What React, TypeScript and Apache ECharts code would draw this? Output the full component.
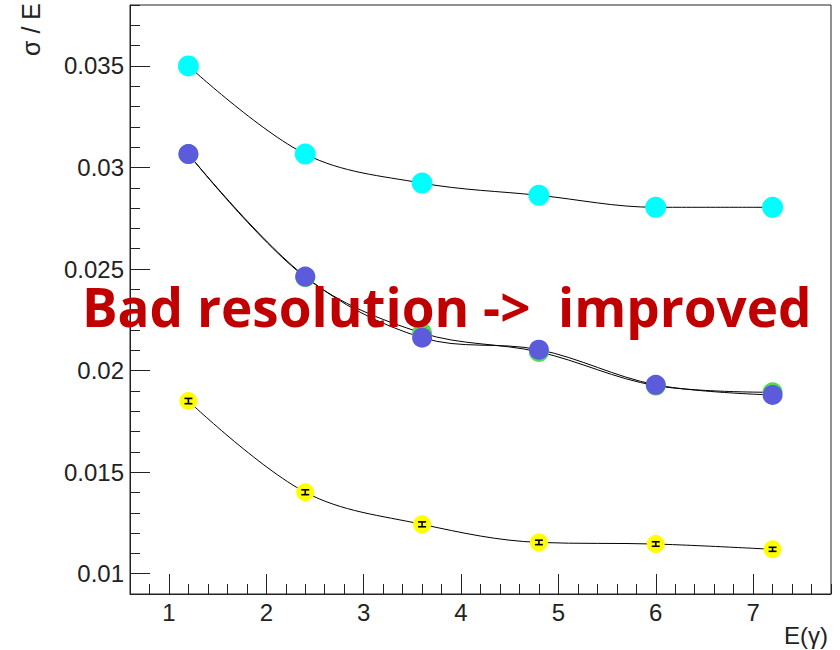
import React, { useEffect, useRef } from "react";
import * as echarts from "echarts";

const xValues = [1.2, 2.4, 3.6, 4.8, 6.0, 7.2];
const cyanValues = [0.035, 0.03066, 0.02923, 0.02863, 0.02804, 0.02804];
const greenValues = [0.03066, 0.0246, 0.02185, 0.02092, 0.01926, 0.01893];
const blueValues = [0.03066, 0.02463, 0.02162, 0.02103, 0.0193, 0.0188];
const yellowValues = [0.0185, 0.01401, 0.01243, 0.01154, 0.01146, 0.0112];
const yellowErrors = [0.00013, 0.00012, 0.00012, 0.00011, 0.00011, 0.0001];
const xTickLabels = [1, 2, 3, 4, 5, 6, 7];
const yTickLabels = [0.01, 0.015, 0.02, 0.025, 0.03, 0.035];

const pairs = (ys: number[]) => xValues.map((x, i) => [x, ys[i]]);

export default function App() {
  const ref = useRef<HTMLDivElement>(null);
  useEffect(() => {
    if (!ref.current) return;
    const chart = echarts.init(ref.current, null, { renderer: "svg" });
    const lineSeries = (name: string, ys: number[], color: string, size: number) => ({
      name,
      type: "line",
      xAxisIndex: 0,
      yAxisIndex: 0,
      data: pairs(ys),
      smooth: 0.35,
      symbol: "circle",
      symbolSize: size,
      lineStyle: { color: "#000", width: 1 },
      itemStyle: { color, borderWidth: 0 },
      z: 3,
    });
    chart.setOption({
      animation: false,
      backgroundColor: "#fff",
      grid: {
        left: 130,
        right: 9,
        top: 5,
        bottom: 56,
        show: true,
        borderColor: "#222",
        borderWidth: 1,
        backgroundColor: "transparent",
      },
      xAxis: [
        {
          type: "value",
          min: 0.6,
          max: 7.8,
          position: "bottom",
          axisLine: { show: true, lineStyle: { color: "#222", width: 1 } },
          axisTick: { show: true, inside: true, length: 20, customValues: xTickLabels, lineStyle: { color: "#222" } },
          axisLabel: {
            customValues: xTickLabels,
            fontFamily: "Liberation Sans",
            fontSize: 24,
            color: "#222",
            margin: 6,
          },
          splitLine: { show: false },
        },
        {
          type: "value",
          min: 0.6,
          max: 7.8,
          interval: 0.2,
          position: "bottom",
          offset: 0,
          axisLine: { show: false },
          axisTick: { show: true, inside: true, length: 10, lineStyle: { color: "#222" } },
          axisLabel: { show: false },
          splitLine: { show: false },
        },
      ],
      yAxis: [
        {
          type: "value",
          min: 0.009,
          max: 0.038,
          position: "left",
          axisLine: { show: true, lineStyle: { color: "#222", width: 1 } },
          axisTick: { show: true, inside: true, length: 20, customValues: yTickLabels, lineStyle: { color: "#222" } },
          axisLabel: {
            customValues: yTickLabels,
            fontFamily: "Liberation Sans",
            fontSize: 24,
            color: "#222",
            margin: 6,
            formatter: (v: number) => String(+v.toFixed(3)),
          },
          splitLine: { show: false },
        },
        {
          type: "value",
          min: 0.009,
          max: 0.038,
          interval: 0.001,
          position: "left",
          offset: 0,
          axisLine: { show: false },
          axisTick: { show: true, inside: true, length: 10, lineStyle: { color: "#222" } },
          axisLabel: { show: false },
          splitLine: { show: false },
        },
      ],
      series: [
        lineSeries("cyan", cyanValues, "#00ffff", 21),
        lineSeries("green", greenValues, "#55d955", 20),
        lineSeries("blue", blueValues, "#5b5bdb", 20),
        lineSeries("yellow", yellowValues, "#ffff00", 18),
        {
          name: "yellowErr",
          type: "custom",
          xAxisIndex: 0,
          yAxisIndex: 0,
          z: 5,
          data: xValues.map((x, i) => [x, yellowValues[i], yellowErrors[i]]),
          renderItem: (params: any, api: any) => {
            const x = api.value(0);
            const y = api.value(1);
            const e = api.value(2);
            const top = api.coord([x, y + e]);
            const bot = api.coord([x, y - e]);
            const style = { stroke: "#000", lineWidth: 1.6 };
            return {
              type: "group",
              children: [
                { type: "line", shape: { x1: top[0], y1: top[1], x2: bot[0], y2: bot[1] }, style },
                { type: "line", shape: { x1: top[0] - 4, y1: top[1], x2: top[0] + 4, y2: top[1] }, style },
                { type: "line", shape: { x1: bot[0] - 4, y1: bot[1], x2: bot[0] + 4, y2: bot[1] }, style },
              ],
            };
          },
        },
      ],
      graphic: [
        {
          type: "text",
          x: 31,
          y: 3,
          rotation: Math.PI / 2,
          style: {
            text: "σ / E",
            font: '25px "Liberation Sans"',
            fill: "#222",
            align: "right",
            verticalAlign: "middle",
          },
        },
        {
          type: "text",
          x: 828,
          y: 635,
          style: {
            text: "E(γ)",
            font: '24px "Liberation Sans"',
            fill: "#222",
            align: "right",
            verticalAlign: "middle",
          },
        },
        {
          type: "text",
          x: 82,
          y: 306,
          z: 100,
          style: {
            text: "Bad resolution ->  improved",
            font: 'bold 53px "Open Sans"',
            lineHeight: 40,
            fill: "#c00000",
            align: "left",
            verticalAlign: "middle",
          },
        },
      ],
    });
    return () => chart.dispose();
  }, []);
  return <div ref={ref} style={{ width: 840, height: 650, position: "absolute", left: 0, top: 0 }} />;
}
